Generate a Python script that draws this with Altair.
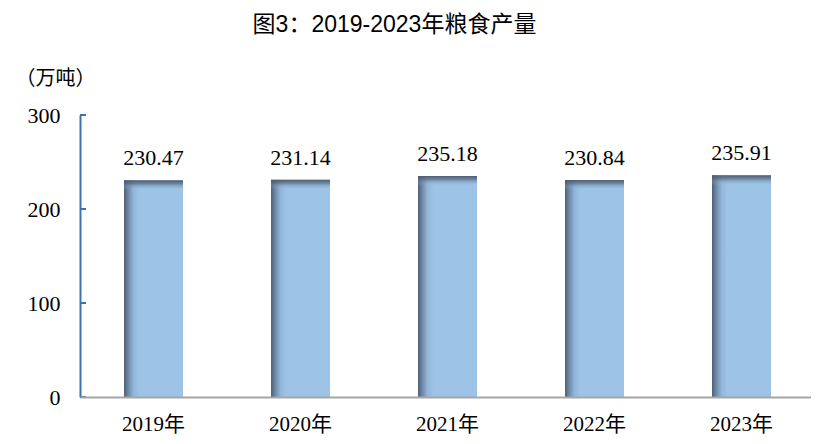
import altair as alt
import pandas as pd

years = ["2019年", "2020年", "2021年", "2022年", "2023年"]
values = [230.47, 231.14, 235.18, 230.84, 235.91]
tick_values = [0, 100, 200, 300]

df = pd.DataFrame({"year": years, "value": values})
df_ticks = pd.DataFrame({"t": tick_values})

AXIS_BLUE = "#3B74AE"
SERIF = "Liberation Serif, Noto Sans CJK SC"
CJK = "Noto Sans CJK SC"

xscale = alt.Scale(paddingInner=0.5986, paddingOuter=0.2857, align=0.524)
yscale = alt.Scale(domain=[0, 300], nice=False)

x_enc = alt.X("year:N", sort=years, scale=xscale, title=None,
              axis=alt.Axis(labelAngle=0, ticks=False, domainColor="#A6A6A6",
                            domainWidth=2, labelPadding=16, labelFont=SERIF,
                            labelFontSize=21, labelColor="#000000", grid=False,
                            zindex=2))
y_enc = alt.Y("value:Q", scale=yscale,
              axis=alt.Axis(values=tick_values, ticks=False, domainColor=AXIS_BLUE,
                            domainWidth=2, labelPadding=20, labelFont=SERIF,
                            labelFontSize=22, labelColor="#000000", grid=False,
                            title="（万吨）", titleAngle=0, titleX=-25, titleY=-37,
                            titleAlign="center", titleBaseline="middle",
                            titleFont=CJK, titleFontSize=20, titleFontWeight="normal",
                            titleColor="#000000", zindex=1))

h_grad = alt.Gradient(
    gradient="linear", x1=0, y1=0, x2=1, y2=0,
    stops=[
        alt.GradientStop(offset=0, color="#4f5f73"),
        alt.GradientStop(offset=0.06, color="#6883a0"),
        alt.GradientStop(offset=0.16, color="#92b6d9"),
        alt.GradientStop(offset=0.26, color="#9dc3e6"),
        alt.GradientStop(offset=1, color="#9dc3e6"),
    ],
)
v_grad = alt.Gradient(
    gradient="linear", x1=0, y1=0, x2=0, y2=1,
    stops=[
        alt.GradientStop(offset=0, color="rgba(75,90,110,0.95)"),
        alt.GradientStop(offset=0.015, color="rgba(85,102,124,0.7)"),
        alt.GradientStop(offset=0.045, color="rgba(157,195,230,0)"),
        alt.GradientStop(offset=1, color="rgba(157,195,230,0)"),
    ],
)

base = alt.Chart(df)
bars = base.mark_bar(color=h_grad).encode(x=x_enc, y=y_enc)
bars_top = base.mark_bar(color=v_grad).encode(x=alt.X("year:N", sort=years), y="value:Q")
labels = base.mark_text(font=SERIF, fontSize=22, color="#000000", dy=-15,
                        baseline="alphabetic", align="center").encode(
    x=alt.X("year:N", sort=years), y="value:Q", text=alt.Text("value:Q", format=".2f"))
ticks = alt.Chart(df_ticks).mark_rule(color=AXIS_BLUE, strokeWidth=2).encode(
    y="t:Q", x=alt.value(0), x2=alt.value(6))

chart = alt.layer(bars, bars_top, labels, ticks).properties(
    width=731, height=282,
    title=alt.TitleParams("图3：2019-2023年粮食产量", font="Liberation Sans, Noto Sans CJK SC",
                          fontSize=23, fontWeight="normal", color="#000000",
                          anchor="middle", dx=-51, offset=31),
    autosize=alt.AutoSizeParams(type="none"),
    padding={"left": 72, "top": 107, "right": 0, "bottom": 39},
).configure_view(stroke=None)

chart.save("out.html", embed_options={"renderer": "svg", "actions": False})
